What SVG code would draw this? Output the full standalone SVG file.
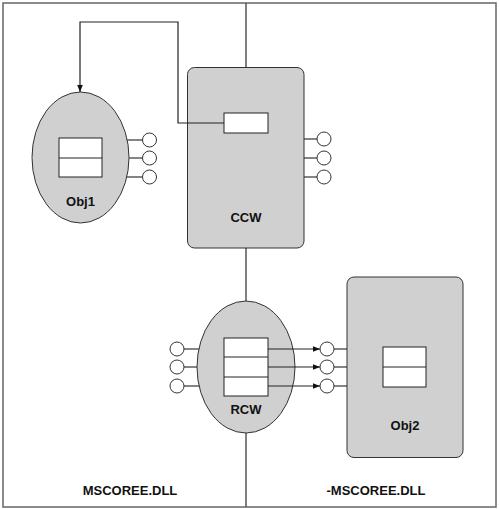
<svg xmlns="http://www.w3.org/2000/svg" width="500" height="509" viewBox="0 0 500 509">
<defs>
<style>
.frame{fill:none;stroke:#666;stroke-width:1.5}
.div{stroke:#555;stroke-width:1.5}
.shape{fill:#d0d0d0;stroke:#333;stroke-width:1}
.box{fill:#fff;stroke:#222;stroke-width:1}
.lol{fill:#fff;stroke:#333;stroke-width:1}
.stem{stroke:#333;stroke-width:1.2;fill:none}
.conn{stroke:#222;stroke-width:1.2;fill:none}
text{font-family:"Liberation Sans",Arial,sans-serif;font-weight:bold;font-size:13px;fill:#111;text-anchor:middle}
</style>
<marker id="arr" viewBox="0 0 10 10" refX="10" refY="5" markerWidth="7" markerHeight="7" markerUnits="userSpaceOnUse" orient="auto">
<path d="M0,1 L10,5 L0,9 z" fill="#111"/>
</marker>
</defs>
<rect width="500" height="509" fill="#fff"/>
<rect class="frame" x="3" y="3" width="493" height="504"/>
<line class="div" x1="246" y1="3" x2="246" y2="507"/>
<g id="obj1">
<line class="stem" x1="125" y1="140" x2="142.5" y2="140"/>
<line class="stem" x1="127" y1="158" x2="142.5" y2="158"/>
<line class="stem" x1="125" y1="177" x2="142.5" y2="177"/>
<ellipse class="shape" cx="80.5" cy="157.5" rx="48.5" ry="65.5"/>
<rect class="box" x="59" y="138" width="43" height="39"/>
<line class="box" x1="59" y1="158" x2="102" y2="158"/>
<circle class="lol" cx="149.5" cy="140" r="7"/>
<circle class="lol" cx="149.5" cy="158" r="7"/>
<circle class="lol" cx="149.5" cy="177" r="7"/>
<text x="80.5" y="205.5">Obj1</text>
</g>
<g id="ccw">
<line class="stem" x1="304" y1="139" x2="317" y2="139"/>
<line class="stem" x1="304" y1="158" x2="317" y2="158"/>
<line class="stem" x1="304" y1="177" x2="317" y2="177"/>
<rect class="shape" x="187.5" y="67.5" width="116.5" height="180.5" rx="7"/>
<rect class="box" x="224" y="113" width="44" height="20"/>
<circle class="lol" cx="324" cy="139" r="7"/>
<circle class="lol" cx="324" cy="158" r="7"/>
<circle class="lol" cx="324" cy="177" r="7"/>
<text x="246" y="221.5">CCW</text>
</g>
<g id="rcw">
<line class="stem" x1="184" y1="349" x2="210" y2="349"/>
<line class="stem" x1="184" y1="367" x2="210" y2="367"/>
<line class="stem" x1="184" y1="386" x2="210" y2="386"/>
<ellipse class="shape" cx="246" cy="367" rx="49" ry="66"/>
<rect class="box" x="224" y="338" width="44" height="58"/>
<line class="box" x1="224" y1="357" x2="268" y2="357"/>
<line class="box" x1="224" y1="377" x2="268" y2="377"/>
<circle class="lol" cx="177" cy="349" r="7"/>
<circle class="lol" cx="177" cy="367" r="7"/>
<circle class="lol" cx="177" cy="386" r="7"/>
<text x="246" y="413.5">RCW</text>
</g>
<g id="obj2">
<line class="stem" x1="334" y1="349" x2="347" y2="349"/>
<line class="stem" x1="334" y1="367" x2="347" y2="367"/>
<line class="stem" x1="334" y1="386" x2="347" y2="386"/>
<rect class="shape" x="347" y="277" width="116" height="180.5" rx="7"/>
<rect class="box" x="383" y="347" width="43" height="40"/>
<line class="box" x1="383" y1="367" x2="426" y2="367"/>
<circle class="lol" cx="327" cy="349" r="7"/>
<circle class="lol" cx="327" cy="367" r="7"/>
<circle class="lol" cx="327" cy="386" r="7"/>
<text x="405" y="429.5">Obj2</text>
</g>
<g id="connectors">
<path class="conn" d="M224,123 H178 V22 H80 V92" marker-end="url(#arr)"/>
<line class="conn" x1="268" y1="349" x2="320" y2="349" marker-end="url(#arr)"/>
<line class="conn" x1="268" y1="367" x2="320" y2="367" marker-end="url(#arr)"/>
<line class="conn" x1="268" y1="386" x2="320" y2="386" marker-end="url(#arr)"/>
</g>
<g id="labels">
<text x="130" y="494.5">MSCOREE.DLL</text>
<text x="376" y="494.5">-MSCOREE.DLL</text>
</g>
</svg>
